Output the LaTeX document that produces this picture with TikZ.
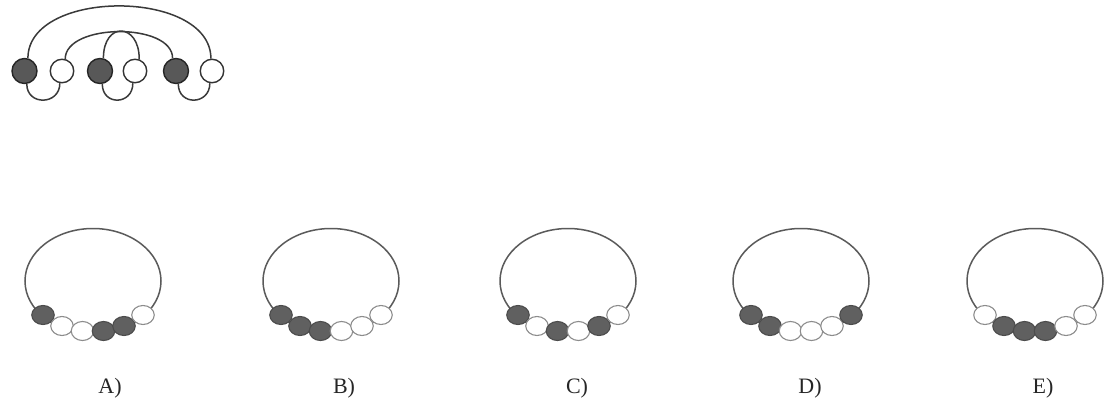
\documentclass[tikz,border=0pt]{standalone}
\usepackage{fontspec}
\setmainfont{Liberation Serif}
\usetikzlibrary{shapes.geometric,calc}
\definecolor{darkbead}{HTML}{585858}
\definecolor{lineg}{HTML}{3A3A3A}
\definecolor{ringg}{HTML}{5A5A5A}
\tikzset{
  topdark/.style={circle, draw=black!85, line width=1.4pt, fill=darkbead, minimum size=25pt, inner sep=0pt},
  toplight/.style={circle, draw=black!80, line width=1.4pt, fill=white, minimum size=23.5pt, inner sep=0pt},
  string/.style={draw=lineg, line width=1.5pt},
  ring/.style={ellipse, draw=ringg, line width=1.5pt, fill=white, minimum width=136pt, minimum height=105pt, inner sep=0pt},
  bd/.style={ellipse, draw=black!70, line width=1.1pt, fill=darkbead!95, minimum width=22.5pt, minimum height=19pt, inner sep=0pt},
  bw/.style={ellipse, draw=black!45, line width=1.1pt, fill=white, minimum width=22.5pt, minimum height=19pt, inner sep=0pt},
  lab/.style={font=\fontsize{22}{24}\selectfont, text=black!85}
}
\begin{document}
\begin{tikzpicture}[x=1pt,y=-1pt]
\useasboundingbox[fill=white] (0,0) rectangle (1104,407);

% ---- top necklace: bead positions ----
\path (24.5,71) coordinate (p1) (62,71) coordinate (p2) (100,71) coordinate (p3)
      (135,71) coordinate (p4) (176,71) coordinate (p5) (212,71) coordinate (p6);
% invisible anchors first so strings can go behind the beads
\foreach \i/\st in {1/topdark,2/toplight,3/topdark,4/toplight,5/topdark,6/toplight}
  \path node[\st, draw=none, fill=none] (t\i) at (p\i) {};
% strings (behind beads)
\draw[string] (t1.75) .. controls +(0,-70) and +(0,-70) .. (t6.95);
\draw[string] (t2.75) .. controls +(0,-36) and +(0,-36) .. (t5.105);
\draw[string] (t3.75) .. controls +(0,-37) and +(0,-37) .. (t4.70);
\draw[string] (t1.-80) .. controls +(0,22) and +(0,22) .. (t2.-100);
\draw[string] (t3.-80) .. controls +(0,22) and +(0,22) .. (t4.-100);
\draw[string] (t5.-80) .. controls +(0,22) and +(0,22) .. (t6.-100);
% visible beads
\foreach \i/\st in {1/topdark,2/toplight,3/topdark,4/toplight,5/topdark,6/toplight}
  \node[\st] (b\i) at (p\i) {};

% ---- answer rings ----
\foreach \nm/\cx/\seq/\lx in {A/93/{bd,bw,bw,bd,bd,bw}/110,
                              B/331/{bd,bd,bd,bw,bw,bw}/344,
                              C/568/{bd,bw,bd,bw,bd,bw}/577,
                              D/801/{bd,bd,bw,bw,bw,bd}/810,
                              E/1035/{bw,bd,bd,bd,bw,bw}/1043}{
  \node[ring] (r\nm) at (\cx,281) {};
  \foreach \st [count=\i] in \seq {
    \pgfmathsetmacro{\dx}{{-50,-31,-10.5,10.5,31,50}[\i-1]}
    \pgfmathsetmacro{\dy}{{34,45,50,50,45,34}[\i-1]}
    \node[\st] (\nm\i) at ($(r\nm.center)+(\dx,\dy)$) {};
  }
  \node[lab] (l\nm) at (\lx,388) {\nm)};
}
\end{tikzpicture}
\end{document}
